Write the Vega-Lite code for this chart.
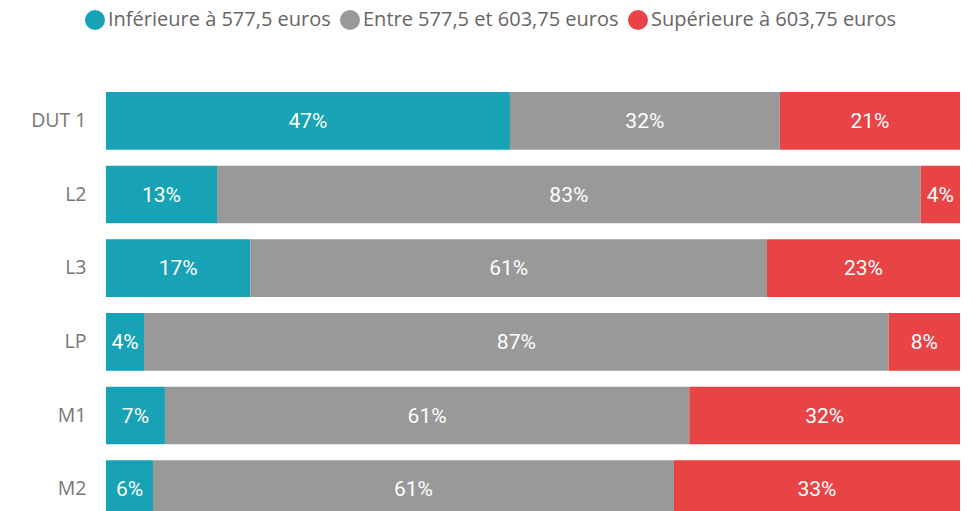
{
  "$schema": "https://vega.github.io/schema/vega-lite/v6.json",
  "autosize": "none",
  "padding": {"left": 106, "top": 84, "right": 13, "bottom": 0},
  "width": 854,
  "height": 442,
  "background": "white",
  "config": {"view": {"stroke": null}},
  "data": {
    "values": [
      {"diplome": "DUT 1", "tranche": "Inférieure à 577,5 euros", "ordre": 1, "valeur": 47.3, "label": "47%"},
      {"diplome": "DUT 1", "tranche": "Entre 577,5 et 603,75 euros", "ordre": 2, "valeur": 31.6, "label": "32%"},
      {"diplome": "DUT 1", "tranche": "Supérieure à 603,75 euros", "ordre": 3, "valeur": 21.1, "label": "21%"},
      {"diplome": "L2", "tranche": "Inférieure à 577,5 euros", "ordre": 1, "valeur": 13.0, "label": "13%"},
      {"diplome": "L2", "tranche": "Entre 577,5 et 603,75 euros", "ordre": 2, "valeur": 82.4, "label": "83%"},
      {"diplome": "L2", "tranche": "Supérieure à 603,75 euros", "ordre": 3, "valeur": 4.6, "label": "4%"},
      {"diplome": "L3", "tranche": "Inférieure à 577,5 euros", "ordre": 1, "valeur": 16.9, "label": "17%"},
      {"diplome": "L3", "tranche": "Entre 577,5 et 603,75 euros", "ordre": 2, "valeur": 60.5, "label": "61%"},
      {"diplome": "L3", "tranche": "Supérieure à 603,75 euros", "ordre": 3, "valeur": 22.6, "label": "23%"},
      {"diplome": "LP", "tranche": "Inférieure à 577,5 euros", "ordre": 1, "valeur": 4.45, "label": "4%"},
      {"diplome": "LP", "tranche": "Entre 577,5 et 603,75 euros", "ordre": 2, "valeur": 87.2, "label": "87%"},
      {"diplome": "LP", "tranche": "Supérieure à 603,75 euros", "ordre": 3, "valeur": 8.35, "label": "8%"},
      {"diplome": "M1", "tranche": "Inférieure à 577,5 euros", "ordre": 1, "valeur": 6.9, "label": "7%"},
      {"diplome": "M1", "tranche": "Entre 577,5 et 603,75 euros", "ordre": 2, "valeur": 61.4, "label": "61%"},
      {"diplome": "M1", "tranche": "Supérieure à 603,75 euros", "ordre": 3, "valeur": 31.7, "label": "32%"},
      {"diplome": "M2", "tranche": "Inférieure à 577,5 euros", "ordre": 1, "valeur": 5.5, "label": "6%"},
      {"diplome": "M2", "tranche": "Entre 577,5 et 603,75 euros", "ordre": 2, "valeur": 61.0, "label": "61%"},
      {"diplome": "M2", "tranche": "Supérieure à 603,75 euros", "ordre": 3, "valeur": 33.5, "label": "33%"}
    ]
  },
  "encoding": {
    "y": {
      "field": "diplome",
      "type": "nominal",
      "sort": ["DUT 1", "L2", "L3", "LP", "M1", "M2"],
      "scale": {"paddingInner": 0.217, "paddingOuter": 0.1085},
      "axis": {
        "title": null,
        "domain": false,
        "ticks": false,
        "labelPadding": 20,
        "labelFont": "Open Sans",
        "labelFontSize": 19.5,
        "labelColor": "#777777"
      }
    },
    "order": {"field": "ordre", "type": "quantitative"}
  },
  "layer": [
    {
      "mark": {"type": "bar"},
      "encoding": {
        "x": {
          "field": "valeur",
          "type": "quantitative",
          "stack": "normalize",
          "scale": {"domain": [0, 1], "nice": false},
          "axis": null
        },
        "color": {
          "field": "tranche",
          "type": "nominal",
          "scale": {
            "domain": ["Inférieure à 577,5 euros", "Entre 577,5 et 603,75 euros", "Supérieure à 603,75 euros"],
            "range": ["#17A2B5", "#999999", "#E84445"]
          },
          "legend": {
            "title": null,
            "orient": "none",
            "direction": "horizontal",
            "legendX": -21,
            "legendY": -74,
            "symbolType": "circle",
            "symbolSize": 400,
            "symbolStrokeWidth": 0,
            "symbolOpacity": 1,
            "labelFont": "Open Sans",
            "labelFontSize": 20,
            "labelColor": "#666666",
            "labelOffset": 3,
            "columnPadding": 9,
            "labelLimit": 400
          }
        }
      }
    },
    {
      "mark": {"type": "text", "color": "white", "font": "Roboto", "fontSize": 21, "baseline": "middle", "align": "center", "dy": 1},
      "encoding": {
        "x": {
          "field": "valeur",
          "type": "quantitative",
          "stack": "normalize",
          "bandPosition": 0.5
        },
        "text": {"field": "label"}
      }
    }
  ]
}
